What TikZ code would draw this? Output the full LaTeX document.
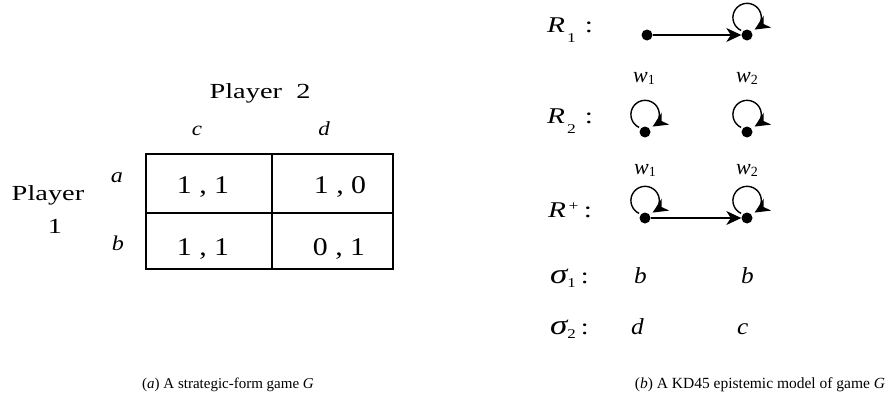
\documentclass[tikz,border=0pt]{standalone}
\usepackage{fontspec}
\setmainfont{Liberation Serif}
\usetikzlibrary{arrows.meta}
\newcommand{\fs}[1]{\fontsize{#1}{#1}\selectfont}
\newcommand{\hs}[2]{\scalebox{#1}[1]{#2}}
\newcommand{\lsub}[3][-4pt]{\raisebox{#1}{\fontsize{#2}{#2}\selectfont #3}}
\begin{document}
\begin{tikzpicture}[x=1pt,y=1pt,
  lbl/.style={inner sep=0pt, anchor=base},
  lblw/.style={inner sep=0pt, anchor=base west},
  dotnode/.style={circle, fill=black, inner sep=0pt, minimum size=11pt},
  tip/.style={-{Stealth[length=15pt,width=14pt,inset=4.5pt]}},
  harrow/.style={tip, line width=1.2pt},
  looparrow/.style={tip, line width=1.4pt},
  outer/.style={line width=2.2pt},
  inner/.style={line width=1.3pt}
]
\useasboundingbox (0,0) rectangle (891,-399);
% ---- (a) strategic-form game ----
\coordinate (tl) at (146,-154);
\coordinate (br) at (393,-269);
\draw[inner] (272,-154) -- (272,-269);
\draw[inner] (146,-213) -- (393,-213);
\draw[outer] (tl) rectangle (br);
\node[lbl] (p2) at (260,-98) {\hs{1.32}{\fs{21.5}Player\ \ 2}};
\node[lbl] (sc) at (197,-135) {\hs{1.15}{\fs{20}\itshape c}};
\node[lbl] (sd) at (324,-135) {\hs{1.15}{\fs{20}\itshape d}};
\node[lbl] (sa) at (117,-182) {\hs{1.15}{\fs{21}\itshape a}};
\node[lbl] (sb) at (118,-250) {\hs{1.15}{\fs{21}\itshape b}};
\node[lbl] (p1a) at (48,-200) {\hs{1.32}{\fs{21.5}Player}};
\node[lbl] (p1b) at (55,-233) {\hs{1.32}{\fs{21.5}1}};
\node[lbl] (c11) at (203,-193) {\hs{1.17}{\fs{25.5}1 , 1}};
\node[lbl] (c12) at (340,-193) {\hs{1.17}{\fs{25.5}1 , 0}};
\node[lbl] (c21) at (203,-255) {\hs{1.17}{\fs{25.5}1 , 1}};
\node[lbl] (c22) at (339,-255) {\hs{1.17}{\fs{25.5}0 , 1}};
% ---- (b) epistemic model ----
\node[dotnode] (w1a) at (647,-35) {};
\node[dotnode] (w2a) at (747,-35) {};
\node[dotnode] (w1b) at (645,-132) {};
\node[dotnode] (w2b) at (747,-132) {};
\node[dotnode] (w1c) at (645,-218) {};
\node[dotnode] (w2c) at (747,-218) {};
\draw[harrow] (w1a) -- (w2a);
\draw[harrow] (w1c) -- (w2c);
\foreach \n in {w2a,w1b,w2b,w1c,w2c}{
  \draw[looparrow] ([shift={(-5.9,4.6)}]\n.center) arc[start angle=245,end angle=-58,radius=14.2];
}
\node[lblw] (r1) at (547,-32) {\hs{1.3}{\fs{22.5}\itshape R\hspace{1.5pt}\upshape\lsub[-10pt]{13.5}{1}\hspace{7pt}:}};
\node[lblw] (r2) at (547,-123) {\hs{1.3}{\fs{22.5}\itshape R\hspace{1.5pt}\upshape\lsub[-10pt]{13.5}{2}\hspace{7pt}:}};
\node[lblw] (rp) at (548,-217) {\hs{1.3}{\fs{22.5}\itshape R\hspace{2pt}\upshape\lsub[7pt]{13.5}{+}\hspace{4pt}:}};
\node[lblw] (l1a) at (633,-82) {\fs{22}\itshape w\upshape\lsub[-2pt]{14}{1}};
\node[lblw] (l2a) at (736,-82) {\fs{22}\itshape w\upshape\lsub[-2pt]{14}{2}};
\node[lblw] (l1b) at (634,-174) {\fs{22}\itshape w\upshape\lsub[-2pt]{14}{1}};
\node[lblw] (l2b) at (736,-174) {\fs{22}\itshape w\upshape\lsub[-2pt]{14}{2}};
\node[lblw] (s1) at (550,-283) {\hs{1.25}{\fs{28}\itshape σ\upshape\lsub[-4pt]{13.5}{1}\hspace{4pt}\fs{22.5}:}};
\node[lblw] (s2) at (550,-334) {\hs{1.25}{\fs{28}\itshape σ\upshape\lsub[-4pt]{13.5}{2}\hspace{4pt}\fs{22.5}:}};
\node[lblw] (s1x) at (634,-283) {\hs{1.1}{\fs{23}\itshape b}};
\node[lblw] (s1y) at (741,-283) {\hs{1.1}{\fs{23}\itshape b}};
\node[lblw] (s2x) at (631,-334) {\hs{1.1}{\fs{23}\itshape d}};
\node[lblw] (s2y) at (737,-334) {\hs{1.1}{\fs{23}\itshape c}};
% ---- captions ----
\node[lbl] (capa) at (228,-388) {\fs{15}(\textit{a}) A strategic-form game \textit{G}};
\node[lbl] (capb) at (760,-388) {\fs{15.5}(\textit{b}) A KD45 epistemic model of game \textit{G}};
\end{tikzpicture}
\end{document}
